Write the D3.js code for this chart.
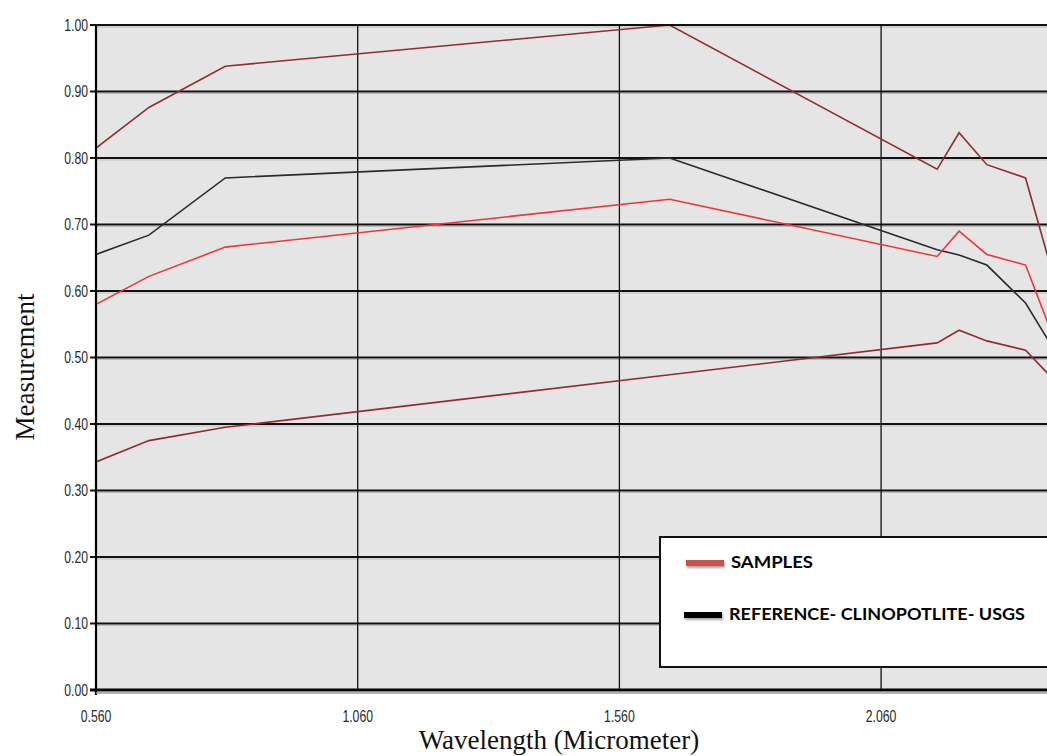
<!DOCTYPE html>
<html>
<head>
<meta charset="utf-8">
<script src="https://cdn.jsdelivr.net/npm/d3@7"></script>
<style>
  body { margin: 0; background: #fff; }
  svg { display: block; }
</style>
</head>
<body>
<svg id="chart" width="1047" height="756"></svg>
<script>
// band centres (micrometer)
var wavelengths = [0.56, 0.661, 0.807, 1.656, 2.167, 2.209, 2.262, 2.336, 2.400];

var sampleHigh = [0.815, 0.876, 0.938, 1.000, 0.783, 0.838, 0.790, 0.770, 0.592];
var sampleMid  = [0.580, 0.622, 0.666, 0.738, 0.652, 0.690, 0.655, 0.639, 0.508];
var sampleLow  = [0.343, 0.375, 0.395, 0.474, 0.522, 0.541, 0.525, 0.511, 0.458];
var reference  = [0.655, 0.684, 0.770, 0.800, 0.662, 0.654, 0.639, 0.582, 0.499];

var yTicks = [0, 0.1, 0.2, 0.3, 0.4, 0.5, 0.6, 0.7, 0.8, 0.9, 1.0];
var xTicks = [0.56, 1.06, 1.56, 2.06];

var legendItems = ["SAMPLES", "REFERENCE- CLINOPOTLITE- USGS"];

var svg = d3.select("#chart");
var margin = { top: 25, left: 96, bottom: 690, right: 1047 };

var x = d3.scaleLinear()
  .domain([0.56, 0.56 + (margin.right - margin.left) / 523.4])
  .range([margin.left, margin.right]);

var y = d3.scaleLinear()
  .domain([0, 1])
  .range([margin.bottom, margin.top]);

var squeeze = function(px) {
  return "translate(" + px + ",0) scale(0.72,1) translate(" + (-px) + ",0)";
};

// plot background
svg.append("rect")
  .attr("x", margin.left)
  .attr("y", margin.top)
  .attr("width", margin.right - margin.left)
  .attr("height", margin.bottom - margin.top)
  .attr("fill", "#e5e5e5");

svg.append("defs").append("clipPath").attr("id", "clip")
  .append("rect")
  .attr("x", margin.left)
  .attr("y", margin.top - 2)
  .attr("width", margin.right - margin.left)
  .attr("height", margin.bottom - margin.top + 4);

// horizontal grid (dark line with a soft shadow underneath)
var hgrid = svg.append("g").attr("class", "hgrid");
hgrid.selectAll("line.shadow")
  .data(yTicks.slice(1))
  .enter().append("line")
  .attr("class", "shadow")
  .attr("x1", margin.left).attr("x2", margin.right)
  .attr("y1", function(d) { return y(d) + 2; })
  .attr("y2", function(d) { return y(d) + 2; })
  .attr("stroke", "#bdbdbd").attr("stroke-width", 1.2);
hgrid.selectAll("line.main")
  .data(yTicks.slice(1))
  .enter().append("line")
  .attr("class", "main")
  .attr("x1", margin.left - 6).attr("x2", margin.right)
  .attr("y1", function(d) { return y(d); })
  .attr("y2", function(d) { return y(d); })
  .attr("stroke", "#111").attr("stroke-width", 1.8);

// vertical grid
svg.append("g").selectAll("line")
  .data(xTicks.slice(1))
  .enter().append("line")
  .attr("x1", function(d) { return x(d); })
  .attr("x2", function(d) { return x(d); })
  .attr("y1", margin.top).attr("y2", margin.bottom)
  .attr("stroke", "#111").attr("stroke-width", 1.3);

// series
var line = d3.line()
  .x(function(d, i) { return x(wavelengths[i]); })
  .y(function(d) { return y(d); });

var series = [
  { values: sampleHigh, color: "#962a2c", width: 1.6 },
  { values: sampleLow,  color: "#962a2c", width: 1.6 },
  { values: reference,  color: "#2b2b2b", width: 1.6 },
  { values: sampleMid,  color: "#f2353a", width: 1.6 }
];

svg.append("g").attr("clip-path", "url(#clip)")
  .selectAll("path")
  .data(series)
  .enter().append("path")
  .attr("d", function(d) { return line(d.values); })
  .attr("fill", "none")
  .attr("stroke", function(d) { return d.color; })
  .attr("stroke-width", function(d) { return d.width; })
  .attr("stroke-linejoin", "miter");

// axes
svg.append("line")
  .attr("x1", margin.left).attr("x2", margin.left)
  .attr("y1", margin.top - 1).attr("y2", margin.bottom + 5)
  .attr("stroke", "#000").attr("stroke-width", 2.2);
svg.append("line")
  .attr("x1", margin.left - 6).attr("x2", margin.right)
  .attr("y1", margin.bottom).attr("y2", margin.bottom)
  .attr("stroke", "#000").attr("stroke-width", 3);
svg.append("line")
  .attr("x1", margin.left).attr("x2", margin.right)
  .attr("y1", margin.bottom + 3).attr("y2", margin.bottom + 3)
  .attr("stroke", "#9a9a9a").attr("stroke-width", 1.5);
svg.append("line")
  .attr("x1", margin.left).attr("x2", margin.right)
  .attr("y1", margin.top).attr("y2", margin.top)
  .attr("stroke", "#111").attr("stroke-width", 2);

var tickFont = "'Liberation Sans', Arial, sans-serif";

svg.append("g").selectAll("text")
  .data(yTicks)
  .enter().append("text")
  .attr("x", margin.left - 8)
  .attr("y", function(d) { return y(d) + 6; })
  .attr("text-anchor", "end")
  .attr("font-family", tickFont)
  .attr("font-size", 17)
  .attr("fill", "#2a2a2a")
  .attr("transform", squeeze(margin.left - 8))
  .text(function(d) { return d3.format(".2f")(d); });

svg.append("g").selectAll("text")
  .data(xTicks)
  .enter().append("text")
  .attr("x", function(d) { return x(d); })
  .attr("y", 722)
  .attr("text-anchor", "middle")
  .attr("font-family", tickFont)
  .attr("font-size", 17)
  .attr("fill", "#2a2a2a")
  .attr("transform", function(d) { return squeeze(x(d)); })
  .text(function(d) { return d3.format(".3f")(d); });

// axis titles
svg.append("text")
  .attr("x", 559).attr("y", 749)
  .attr("text-anchor", "middle")
  .attr("font-family", "'Liberation Serif', 'DejaVu Serif', serif")
  .attr("font-size", 27)
  .attr("fill", "#111")
  .text("Wavelength (Micrometer)");

svg.append("text")
  .attr("transform", "translate(34,367) rotate(-90)")
  .attr("text-anchor", "middle")
  .attr("font-family", "'Liberation Serif', 'DejaVu Serif', serif")
  .attr("font-size", 27)
  .attr("fill", "#111")
  .text("Measurement");

// legend
var legend = svg.append("g");
legend.append("rect")
  .attr("x", 660).attr("y", 537)
  .attr("width", 400).attr("height", 130)
  .attr("fill", "#fff")
  .attr("stroke", "#111").attr("stroke-width", 2);

var legendColors = ["#c9514f", "#000"];
var legendY = [563, 615];
var legendWidths = [82, 296];

legend.selectAll("rect.swatch")
  .data(legendItems)
  .enter().append("rect")
  .attr("class", "swatch")
  .attr("x", function(d, i) { return i === 0 ? 686 : 684; })
  .attr("y", function(d, i) { return legendY[i] - 3; })
  .attr("width", 38).attr("height", 6)
  .attr("fill", function(d, i) { return legendColors[i]; })
  .style("filter", "drop-shadow(1px 2px 1px rgba(0,0,0,0.35))");

legend.selectAll("text")
  .data(legendItems)
  .enter().append("text")
  .attr("x", function(d, i) { return i === 0 ? 731 : 729; })
  .attr("y", function(d, i) { return legendY[i] + 5; })
  .attr("font-family", "Lato, 'Open Sans', sans-serif")
  .attr("font-weight", "bold")
  .attr("font-size", 17)
  .attr("textLength", function(d, i) { return legendWidths[i]; })
  .attr("lengthAdjust", "spacingAndGlyphs")
  .attr("fill", "#000")
  .text(function(d) { return d; });
</script>
</body>
</html>
